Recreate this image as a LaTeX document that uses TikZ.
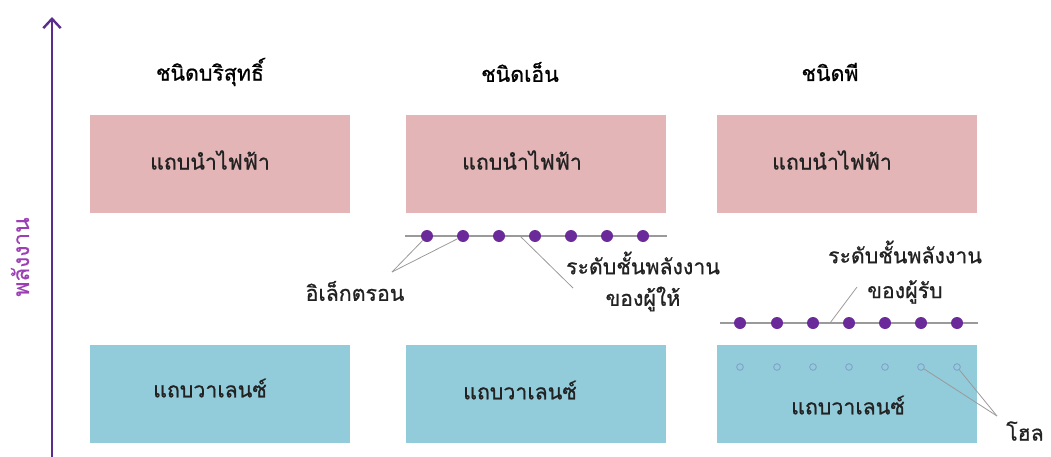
\documentclass[tikz,border=0pt]{standalone}
\usepackage{fontspec}
\newfontfamily\thai[Script=Thai, FakeBold=0.8]{Loma}
\newfontfamily\thaiaxis[Script=Thai, FakeBold=0.4]{Loma}
\usetikzlibrary{arrows.meta}
\definecolor{condc}{HTML}{E3B5B6}
\definecolor{valc}{HTML}{92CBD9}
\definecolor{axisc}{HTML}{5A2D8C}
\definecolor{lblc}{HTML}{9C3FB5}
\definecolor{dotc}{HTML}{6A2A9A}
\definecolor{linec}{HTML}{9A9A9A}
\definecolor{holec}{HTML}{7F9FC8}
\definecolor{txtc}{HTML}{222222}
\tikzset{
  thaifont/.style={font=\thai\fontsize{16}{18}\selectfont},
  band/.style={inner sep=0pt, minimum width=195pt, minimum height=73.5pt},
  cond/.style={band, fill=condc},
  vale/.style={band, fill=valc},
  head/.style={thaifont, text=black},
  lbl/.style={thaifont, text=txtc, inner sep=1pt},
  level/.style={draw=linec, line width=1.3pt},
  elec/.style={circle, fill=dotc, inner sep=0pt, minimum size=9pt},
  hole/.style={circle, draw=holec, line width=0.6pt, inner sep=0pt, minimum size=5pt},
  pointer/.style={draw=linec, line width=0.6pt}
}
\begin{document}
\begin{tikzpicture}[x=0.75pt,y=-0.75pt]
\useasboundingbox (0,0) rectangle (1051,457);
% axis
\coordinate (ax0) at (52,457);
\coordinate (ax1) at (52,17);
\draw[axisc, line width=1.8pt, -{Straight Barb[length=7pt,width=13pt,line width=1.8pt]}] (ax0) -- (ax1);
\node[rotate=90, text=lblc, font=\thaiaxis\fontsize{17}{19}\selectfont] (energy) at (20,257) {พลังงาน};
% headers
\node[head] (h1) at (210,72) {ชนิดบริสุทธิ์};
\node[head] (h2) at (520,72) {ชนิดเอ็น};
\node[head] (h3) at (830,72) {ชนิดพี};
% conduction bands
\node[cond] (c1) at (220,163.5) {};
\node[cond] (c2) at (536,163.5) {};
\node[cond] (c3) at (847,163.5) {};
\node[lbl] at (210,160) {แถบนำไฟฟ้า};
\node[lbl] at (522,160) {แถบนำไฟฟ้า};
\node[lbl] at (832,160) {แถบนำไฟฟ้า};
% valence bands
\node[vale] (v1) at (220,394) {};
\node[vale] (v2) at (536,394) {};
\node[vale] (v3) at (847,394) {};
\node[lbl] at (210,388) {แถบวาเลนซ์};
\node[lbl] at (520,390) {แถบวาเลนซ์};
\node[lbl] at (848,405) {แถบวาเลนซ์};
% donor level
\coordinate (dl0) at (405,236);
\coordinate (dl1) at (667,236);
\coordinate (dp) at (520,236);
\draw[level] (dl0) -- (dl1);
\foreach \i/\x in {1/427,2/463,3/499,4/535,5/571,6/607,7/643} {
  \node[elec] (e\i) at (\x,236) {};
}
% acceptor level
\coordinate (al0) at (720,323);
\coordinate (al1) at (978,323);
\coordinate (ap) at (830,323);
\draw[level] (al0) -- (al1);
\foreach \i/\x in {1/740,2/777,3/813,4/849,5/885,6/921,7/957} {
  \node[elec] (a\i) at (\x,323) {};
  \node[hole] (o\i) at (\x,367) {};
}
% labels
\node[lbl] (elbl) at (355,291) {อิเล็กตรอน};
\coordinate (ej) at (392,272);
\draw[pointer] (ej) -- (e1);
\draw[pointer] (ej) -- (e2);
\node[lbl] (dlbl1) at (643,263) {ระดับชั้นพลังงาน};
\node[lbl] (dlbl2) at (643,299) {ของผู้ให้};
\coordinate (dj) at (573,288);
\draw[pointer] (dp) -- (dj);
\node[lbl] (albl1) at (905,252) {ระดับชั้นพลังงาน};
\node[lbl] (albl2) at (905,292) {ของผู้รับ};
\coordinate (aj) at (857,287);
\draw[pointer] (ap) -- (aj);
\node[lbl] (hlbl) at (1025,431) {โฮล};
\coordinate (hj) at (997,416);
\draw[pointer] (hj) -- (o6);
\draw[pointer] (hj) -- (o7);
\end{tikzpicture}
\end{document}
